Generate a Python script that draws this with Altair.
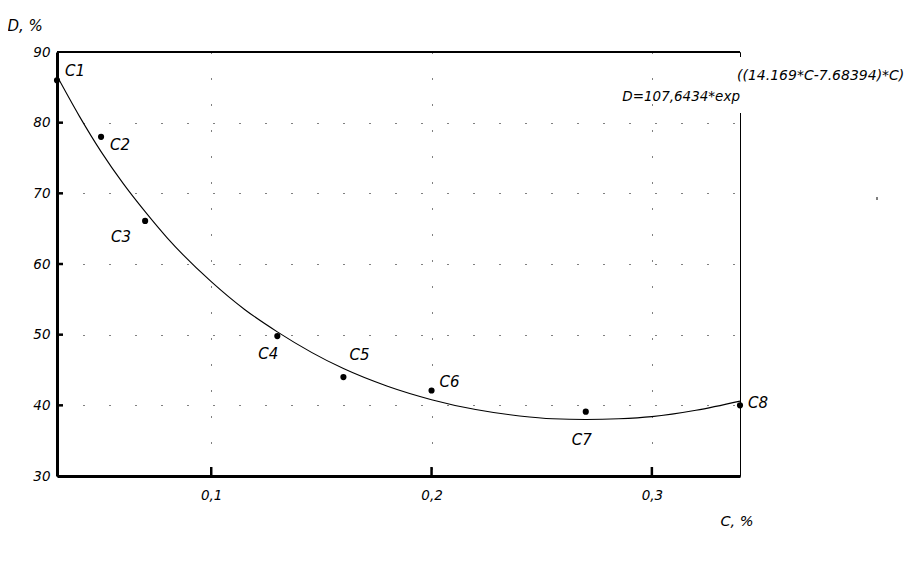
import altair as alt
import pandas as pd

# Measured data points
point_c = [0.03, 0.05, 0.07, 0.13, 0.16, 0.20, 0.27, 0.34]
point_d = [86.0, 78.0, 66.1, 49.8, 44.0, 42.1, 39.1, 40.0]
point_labels = ["C1", "C2", "C3", "C4", "C5", "C6", "C7", "C8"]

# Fitted curve
curve_c = [0.03, 0.04, 0.05, 0.06, 0.07, 0.08, 0.10, 0.115, 0.13, 0.16, 0.18,
           0.20, 0.22, 0.24, 0.255, 0.27, 0.285, 0.30, 0.32, 0.34]
curve_d = [86.6, 81.0, 75.9, 71.4, 67.4, 63.7, 57.5, 53.6, 50.4, 45.2, 42.7,
           40.8, 39.4, 38.5, 38.1, 38.0, 38.1, 38.4, 39.3, 40.6]

x_ticks = [0.1, 0.2, 0.3]
y_ticks = [30, 40, 50, 60, 70, 80, 90]
inner_y_ticks = [40, 50, 60, 70, 80]
x_title = "C, %"
y_title = "D, %"
formula_top = "((14.169*C-7.68394)*C)"
formula_bottom = "D=107,6434*exp"

# label placement (style, not data)
label_place = {
    "C1": (8, -9, "left"), "C2": (9, 8, "left"), "C3": (-14, 16, "right"),
    "C4": (1, 18, "right"), "C5": (6, -22, "left"), "C6": (8, -8, "left"),
    "C7": (-4, 28, "center"), "C8": (8, -2, "left"),
}

W, H = 683, 424
FONT = "DejaVu Sans"
TICK_FS = 13.5

xs = alt.Scale(domain=[0.03, 0.34], nice=False, zero=False)
ys = alt.Scale(domain=[30, 90], nice=False, zero=False)

points_df = pd.DataFrame({"C": point_c, "D": point_d, "label": point_labels})
curve_df = pd.DataFrame({"C": curve_c, "D": curve_d})

x_axis = alt.Axis(values=x_ticks, labelExpr="replace(format(datum.value, '.1f'), '.', ',')",
                  ticks=False, grid=True, gridDash=[1, 25], gridColor="black", gridOpacity=1,
                  domainWidth=3, domainColor="black", labelFont=FONT, labelFontStyle="italic",
                  labelFontSize=TICK_FS, labelColor="black", labelPadding=12, title=x_title,
                  titleX=663, titleY=49, titleAlign="left", titleBaseline="alphabetic",
                  titleFont=FONT, titleFontStyle="italic", titleFontWeight="normal",
                  titleFontSize=14.5, titleColor="black")
y_axis = alt.Axis(values=y_ticks, format="d", ticks=False, grid=True, gridDash=[1, 25],
                  gridColor="black", gridOpacity=1, domainWidth=3, domainColor="black",
                  labelFont=FONT, labelFontStyle="italic", labelFontSize=TICK_FS, labelColor="black",
                  labelPadding=7, title=y_title, titleAngle=0, titleX=-50, titleY=-22,
                  titleAlign="left", titleBaseline="alphabetic", titleFont=FONT,
                  titleFontStyle="italic", titleFontWeight="normal", titleFontSize=15,
                  titleColor="black")


def X():
    return alt.X("C:Q", scale=xs, axis=x_axis)


def Y():
    return alt.Y("D:Q", scale=ys, axis=y_axis)


curve = alt.Chart(curve_df).mark_line(color="black", strokeWidth=1.1, interpolate="monotone").encode(
    x=X(), y=Y())

pts = alt.Chart(points_df).mark_circle(color="black", opacity=1, size=38).encode(x=X(), y=Y())

label_layers = []
for name, (dx, dy, al) in label_place.items():
    label_layers.append(
        alt.Chart(points_df).transform_filter(alt.datum.label == name)
        .mark_text(font=FONT, fontStyle="italic", fontSize=15, color="black",
                   dx=dx, dy=dy, align=al, baseline="middle")
        .encode(x=X(), y=Y(), text="label:N")
    )

ytick_layer = alt.Chart(pd.DataFrame({"D": inner_y_ticks})).mark_rule(color="black", strokeWidth=2.5).encode(
    y=Y(), x=alt.value(0), x2=alt.value(6))
xtick_layer = alt.Chart(pd.DataFrame({"C": x_ticks})).mark_rule(color="black", strokeWidth=2.5).encode(
    x=X(), y=alt.value(H - 9), y2=alt.value(H))

one = pd.DataFrame({"a": [0]})
top_line = alt.Chart(one).mark_rule(color="black", strokeWidth=2).encode(
    x=alt.value(0), x2=alt.value(W), y=alt.value(0))
white_box = alt.Chart(one).mark_rect(color="white", opacity=1).encode(
    x=alt.value(679), x2=alt.value(688), y=alt.value(5), y2=alt.value(61))
txt_top = alt.Chart(one).mark_text(font=FONT, fontStyle="italic", fontSize=14, color="black",
                                   align="left", baseline="alphabetic").encode(
    x=alt.value(680), y=alt.value(28), text=alt.value(formula_top))
txt_bot = alt.Chart(one).mark_text(font=FONT, fontStyle="italic", fontSize=13.5, color="black",
                                   align="right", baseline="alphabetic").encode(
    x=alt.value(W), y=alt.value(49), text=alt.value(formula_bottom))
stray = alt.Chart(one).mark_rule(color="black", strokeWidth=1).encode(
    x=alt.value(820), y=alt.value(145), y2=alt.value(148))

chart = alt.layer(
    curve, white_box, ytick_layer, xtick_layer, top_line, pts, *label_layers,
    txt_top, txt_bot, stray
).properties(
    width=W, height=H,
    autosize=alt.AutoSizeParams(type="none"),
    padding={"left": 49, "top": 44, "right": 165, "bottom": 98},
    background="white",
).configure_view(stroke="black", strokeWidth=1)

chart.save("out.html", embed_options={"renderer": "svg", "actions": False})
